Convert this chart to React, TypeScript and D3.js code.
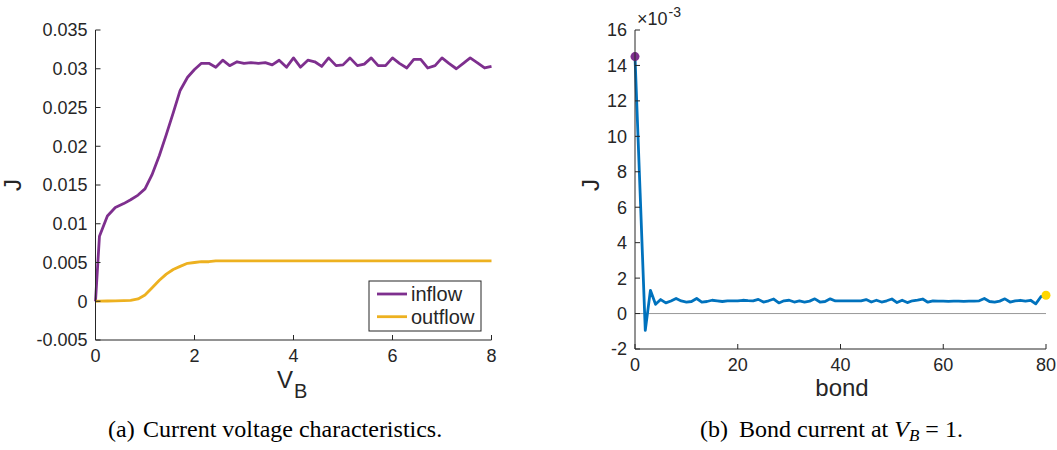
import React from 'react';
import * as d3 from 'd3';

// ---------- Panel (a): current-voltage characteristics ----------
const voltages = [
  0, 0.08, 0.24, 0.4, 0.57, 0.71, 0.86, 1, 1.14, 1.29, 1.43, 1.57, 1.71, 1.86, 2,
  2.14, 2.29, 2.43, 2.57, 2.71, 2.86, 3, 3.14, 3.29, 3.43, 3.57, 3.71, 3.86, 4,
  4.14, 4.29, 4.43, 4.57, 4.71, 4.86, 5, 5.14, 5.29, 5.43, 5.57, 5.71, 5.86, 6,
  6.14, 6.29, 6.43, 6.57, 6.71, 6.86, 7, 7.14, 7.29, 7.43, 7.57, 7.71, 7.86, 8,
];
const inflow = [
  0, 0.0084, 0.011, 0.0121, 0.0126, 0.0131, 0.0137, 0.0145, 0.0163, 0.0188, 0.0215,
  0.0243, 0.0272, 0.0289, 0.0299, 0.0307, 0.0307, 0.0302, 0.0311, 0.0304, 0.0309,
  0.0307, 0.0308, 0.0307, 0.0308, 0.0305, 0.0311, 0.0302, 0.0314, 0.0302, 0.0311,
  0.0309, 0.0303, 0.0314, 0.0304, 0.0305, 0.0314, 0.0304, 0.0306, 0.0314, 0.0304,
  0.0304, 0.0314, 0.0307, 0.0301, 0.0312, 0.0312, 0.0301, 0.0304, 0.0314, 0.0307,
  0.03, 0.0307, 0.0314, 0.0308, 0.0301, 0.0303,
];
const outflow = [
  0, 0.00001, 0.00003, 0.00005, 0.00007, 0.0001, 0.0003, 0.0008, 0.0017, 0.0027,
  0.0035, 0.0041, 0.0045, 0.0049, 0.005, 0.0051, 0.0051, 0.0052, 0.0052, 0.0052,
  0.0052, 0.0052, 0.0052, 0.0052, 0.0052, 0.0052, 0.0052, 0.0052, 0.0052, 0.0052,
  0.0052, 0.0052, 0.0052, 0.0052, 0.0052, 0.0052, 0.0052, 0.0052, 0.0052, 0.0052,
  0.0052, 0.0052, 0.0052, 0.0052, 0.0052, 0.0052, 0.0052, 0.0052, 0.0052, 0.0052,
  0.0052, 0.0052, 0.0052, 0.0052, 0.0052, 0.0052, 0.0052,
];
const leftXTicks = [0, 2, 4, 6, 8];
const leftYTicks = [-0.005, 0, 0.005, 0.01, 0.015, 0.02, 0.025, 0.03, 0.035];
const leftYTickLabels = ['-0.005', '0', '0.005', '0.01', '0.015', '0.02', '0.025', '0.03', '0.035'];
const legendLabels = ['inflow', 'outflow'];

// ---------- Panel (b): bond current at V_B = 1 (units of 1e-3) ----------
const bonds = [
  0, 1, 2, 3, 4, 5, 6, 7, 8, 9, 10, 11, 12, 13, 14, 15, 16, 17, 18, 19, 20,
  21, 22, 23, 24, 25, 26, 27, 28, 29, 30, 31, 32, 33, 34, 35, 36, 37, 38, 39, 40,
  41, 42, 43, 44, 45, 46, 47, 48, 49, 50, 51, 52, 53, 54, 55, 56, 57, 58, 59, 60,
  61, 62, 63, 64, 65, 66, 67, 68, 69, 70, 71, 72, 73, 74, 75, 76, 77, 78, 79, 80,
];
const bondCurrent = [
  14.5, 6.8, -0.95, 1.31, 0.52, 0.79, 0.6, 0.71, 0.85, 0.71, 0.65,
  0.68, 0.85, 0.65, 0.68, 0.75, 0.72, 0.68, 0.71, 0.72, 0.71,
  0.75, 0.73, 0.72, 0.8, 0.65, 0.72, 0.82, 0.6, 0.72, 0.75,
  0.65, 0.71, 0.65, 0.7, 0.83, 0.65, 0.68, 0.83, 0.71, 0.71,
  0.71, 0.72, 0.71, 0.72, 0.79, 0.65, 0.75, 0.65, 0.72, 0.82,
  0.62, 0.75, 0.62, 0.72, 0.76, 0.82, 0.64, 0.71, 0.7, 0.7,
  0.69, 0.7, 0.7, 0.69, 0.7, 0.7, 0.72, 0.85, 0.68, 0.64,
  0.7, 0.83, 0.65, 0.71, 0.75, 0.7, 0.75, 0.55, 0.95, 1.03,
];
const rightXTicks = [0, 20, 40, 60, 80];
const rightYTicks = [-2, 0, 2, 4, 6, 8, 10, 12, 14, 16];

const AX = '#262626';
const PURPLE = '#7E2F8E';
const ORANGE = '#EDB120';
const BLUE = '#0072BD';
const SANS = '"Liberation Sans", Arial, Helvetica, sans-serif';
const SERIF = '"Liberation Serif", "Times New Roman", serif';

export default function App() {
  // Left panel scales
  const xL = d3.scaleLinear().domain([0, 8]).range([95.5, 491.5]);
  const yL = d3.scaleLinear().domain([-0.005, 0.035]).range([340, 30]);
  const lineL = d3
    .line<number>()
    .x((_, i) => xL(voltages[i]))
    .y((d) => yL(d));

  // Right panel scales
  const xR = d3.scaleLinear().domain([0, 80]).range([635, 1046]);
  const yR = d3.scaleLinear().domain([-2, 16]).range([349, 30]);
  const lineR = d3
    .line<number>()
    .x((_, i) => xR(bonds[i]))
    .y((d) => yR(d));

  const tickLen = 5;
  const tickFont = 18;

  return (
    <svg
      width={1057}
      height={450}
      style={{ position: 'absolute', left: 0, top: 0, background: '#fff' }}
      fontFamily={SANS}
    >
      <rect x={0} y={0} width={1057} height={450} fill="#fff" />

      {/* ===== Left panel ===== */}
      <path d={lineL(inflow) || ''} fill="none" stroke={PURPLE} strokeWidth={2.8} strokeLinejoin="round" />
      <path d={lineL(outflow) || ''} fill="none" stroke={ORANGE} strokeWidth={2.8} strokeLinejoin="round" />

      {/* axes */}
      <line x1={xL(0)} x2={xL(0)} y1={yL(0.035)} y2={yL(-0.005)} stroke={AX} strokeWidth={1} />
      <line x1={xL(0)} x2={xL(8)} y1={yL(-0.005)} y2={yL(-0.005)} stroke={AX} strokeWidth={1} />
      {leftYTicks.map((t, i) => (
        <g key={'ly' + i}>
          <line x1={xL(0)} x2={xL(0) + tickLen} y1={yL(t)} y2={yL(t)} stroke={AX} />
          <text x={xL(0) - 8} y={yL(t)} dy="0.36em" textAnchor="end" fontSize={tickFont} fill={AX}>
            {leftYTickLabels[i]}
          </text>
        </g>
      ))}
      {leftXTicks.map((t) => (
        <g key={'lx' + t}>
          <line x1={xL(t)} x2={xL(t)} y1={yL(-0.005)} y2={yL(-0.005) - tickLen} stroke={AX} />
          <text x={xL(t)} y={yL(-0.005) + 22} textAnchor="middle" fontSize={tickFont} fill={AX}>
            {t}
          </text>
        </g>
      ))}
      <text transform="translate(21,185) rotate(-90)" textAnchor="middle" fontSize={24} fill={AX}>
        J
      </text>
      <text x={277} y={388} fontSize={24} fill={AX}>
        V
        <tspan dx={1} dy={10} fontSize={20}>B</tspan>
      </text>

      {/* legend */}
      <rect x={369} y={281} width={112} height={50} fill="#fff" stroke={AX} strokeWidth={1} />
      {legendLabels.map((lab, i) => (
        <g key={lab}>
          <line x1={377} x2={407} y1={294 + i * 22.7} y2={294 + i * 22.7} stroke={i === 0 ? PURPLE : ORANGE} strokeWidth={2.8} />
          <text x={411} y={294 + i * 22.7} dy="0.35em" fontSize={20} fill={AX}>
            {lab}
          </text>
        </g>
      ))}

      {/* caption a */}
      <text x={108} y={437} fontFamily={SERIF} fontSize={24} fill="#000">
        (a)
        <tspan x={143}>Current voltage characteristics.</tspan>
      </text>

      {/* ===== Right panel ===== */}
      <line x1={xR(0)} x2={xR(80)} y1={yR(0)} y2={yR(0)} stroke="#999" strokeWidth={1} />
      <path d={lineR(bondCurrent) || ''} fill="none" stroke={BLUE} strokeWidth={2.8} strokeLinejoin="round" />
      <circle cx={xR(bonds[0])} cy={yR(bondCurrent[0])} r={4.5} fill={PURPLE} />
      <circle cx={xR(bonds[bonds.length - 1])} cy={yR(bondCurrent[bondCurrent.length - 1])} r={4.5} fill="#FFD700" />

      <line x1={xR(0)} x2={xR(0)} y1={yR(16)} y2={yR(-2)} stroke={AX} strokeWidth={1} />
      <line x1={xR(0)} x2={xR(80)} y1={yR(-2)} y2={yR(-2)} stroke={AX} strokeWidth={1} />
      {rightYTicks.map((t) => (
        <g key={'ry' + t}>
          <line x1={xR(0)} x2={xR(0) + tickLen} y1={yR(t)} y2={yR(t)} stroke={AX} />
          <text x={xR(0) - 8} y={yR(t)} dy="0.36em" textAnchor="end" fontSize={tickFont} fill={AX}>
            {t}
          </text>
        </g>
      ))}
      {rightXTicks.map((t) => (
        <g key={'rx' + t}>
          <line x1={xR(t)} x2={xR(t)} y1={yR(-2)} y2={yR(-2) - tickLen} stroke={AX} />
          <text x={xR(t)} y={yR(-2) + 22} textAnchor="middle" fontSize={tickFont} fill={AX}>
            {t}
          </text>
        </g>
      ))}
      <text x={637} y={25} fontSize={18} fill={AX}>
        ×10
        <tspan dx={1} dy={-8} fontSize={14}>-3</tspan>
      </text>
      <text transform="translate(599,185) rotate(-90)" textAnchor="middle" fontSize={24} fill={AX}>
        J
      </text>
      <text x={842} y={396} textAnchor="middle" fontSize={24} fill={AX}>
        bond
      </text>

      {/* caption b */}
      <text x={700} y={437} fontFamily={SERIF} fontSize={24} fill="#000">
        (b)
        <tspan x={739}>Bond current at </tspan>
        <tspan fontStyle="italic">V</tspan>
        <tspan fontStyle="italic" fontSize={17} dy={4}>B</tspan>
        <tspan dy={-4}> = 1.</tspan>
      </text>
    </svg>
  );
}
